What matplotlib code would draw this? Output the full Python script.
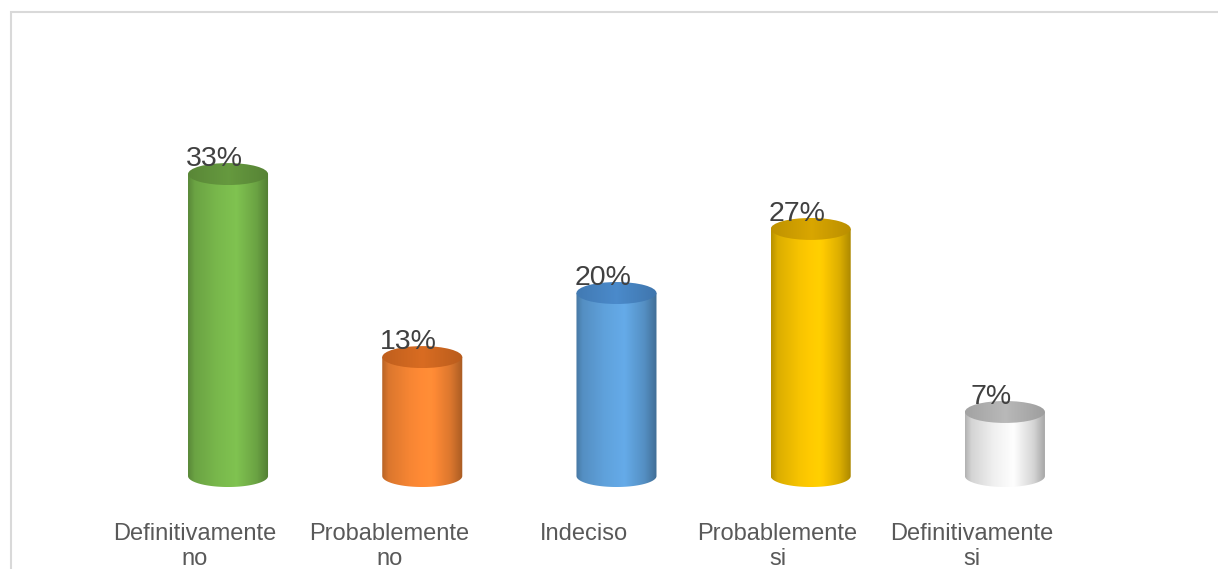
import numpy as np
import matplotlib
matplotlib.use("Agg")
import matplotlib.pyplot as plt
from matplotlib.patches import Ellipse, Polygon, Rectangle
from matplotlib.colors import to_rgb

plt.rcParams['font.family'] = ['Liberation Sans', 'DejaVu Sans']

categories = ["Definitivamente\nno", "Probablemente\nno", "Indeciso", "Probablemente\nsi", "Definitivamente\nsi"]
values = [33, 13, 20, 27, 7]
labels = ["33%", "13%", "20%", "27%", "7%"]
side_colors = ["#7CBD4E", "#FF8A35", "#62A6E2", "#FFCA00", "#F7F7F7"]
top_colors = ["#5E8E3A", "#C9641F", "#4580BC", "#C99A00", "#ABABAB"]

fig = plt.figure(figsize=(12.18, 5.69), dpi=100)
ax = fig.add_axes([0, 0, 1, 1])
ax.set_xlim(-1.174, 5.097)
ax.set_ylim(-10.16, 52.02)
ax.axis("off")

# light frame around the chart area
fig.patches.append(Rectangle((11 / 1218, -0.1), 1.2, 1 - 12 / 569 + 0.1,
                             transform=fig.transFigure, fill=False,
                             edgecolor="#D9D9D9", linewidth=1.5))

w = 0.412     # cylinder diameter in x units
ry = 1.2      # half height of the end ellipses in y units


def shade(color):
    # horizontal lighting profile across the cylinder face
    base = np.array(to_rgb(color))
    t = np.linspace(0, 1, 200)
    f = np.interp(t, [0, 0.08, 0.35, 0.6, 0.85, 1.0],
                  [0.72, 0.86, 0.97, 1.03, 0.86, 0.66])
    rgb = np.clip(base[None, :] * f[:, None], 0, 1)
    return rgb[None, :, :]


def top_shade(color):
    # the lid is a little lighter toward the middle
    base = np.array(to_rgb(color))
    t = np.linspace(0, 1, 200)
    f = np.interp(t, [0, 0.5, 1.0], [0.95, 1.08, 0.92])
    rgb = np.clip(base[None, :] * f[:, None], 0, 1)
    return rgb[None, :, :]


for i, (v, sc, tc, lab) in enumerate(zip(values, side_colors, top_colors, labels)):
    x0, x1 = i - w / 2, i + w / 2
    th = np.linspace(0, np.pi, 60)
    bottom = np.column_stack([i + w / 2 * np.cos(th), -ry * np.sin(th)])
    body = np.vstack([[[x0, v], [x1, v]], bottom])
    clip = Polygon(body, closed=True, facecolor="none", edgecolor="none")
    ax.add_patch(clip)
    img = ax.imshow(shade(sc), extent=[x0, x1, -ry, v], aspect="auto",
                    interpolation="bilinear", zorder=2)
    img.set_clip_path(clip)

    lid = Ellipse((i, v), w, 2 * ry, facecolor="none", edgecolor="none")
    ax.add_patch(lid)
    lid_img = ax.imshow(top_shade(tc), extent=[x0, x1, v - ry, v + ry], aspect="auto",
                        interpolation="bilinear", zorder=3)
    lid_img.set_clip_path(lid)

    ax.text(i - 0.07, v + 0.2, lab, ha="center", va="bottom",
            fontsize=20.5, color="#404040", zorder=4)
    ax.text(i - 0.17, -5.1, categories[i], ha="center", va="top",
            fontsize=17, color="#595959", linespacing=1.2)

fig.savefig("out.png", dpi=100)
